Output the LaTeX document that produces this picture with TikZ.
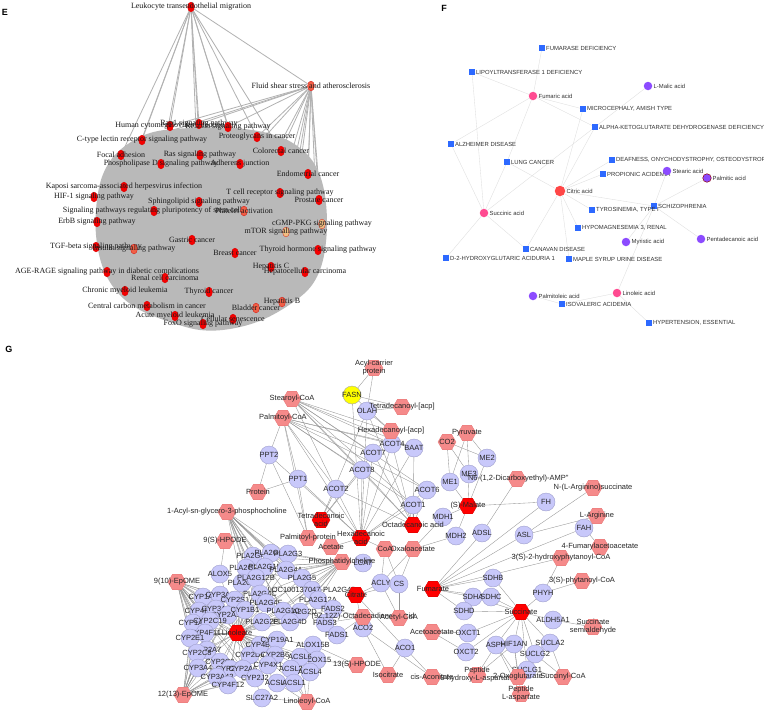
\documentclass[tikz,border=0pt]{standalone}
\usepackage{fontspec}
\setmainfont{Liberation Serif}
\newfontfamily\gfont{Liberation Sans}[Ligatures=TeXOff]
\usetikzlibrary{shapes.geometric}
\pgfdeclarelayer{bg}
\pgfdeclarelayer{blob}
\pgfsetlayers{bg,blob,main}
\definecolor{lav}{RGB}{200,200,250}
\definecolor{lavd}{RGB}{160,160,205}
\definecolor{pinkm}{RGB}{245,138,138}
\definecolor{pinkd}{RGB}{228,115,115}
\definecolor{keyred}{RGB}{255,0,0}
\definecolor{fasny}{RGB}{255,255,0}
\definecolor{fblue}{RGB}{45,105,255}
\definecolor{fpink}{RGB}{255,75,145}
\definecolor{fpurp}{RGB}{140,75,255}
\definecolor{fred}{RGB}{255,70,70}
\definecolor{ered}{RGB}{245,0,0}
\definecolor{eorange}{RGB}{240,95,70}
\definecolor{etan}{RGB}{240,190,130}
\begin{document}
\begin{tikzpicture}[x=1pt,y=-1pt,
  plab/.style={font=\gfont\bfseries\fontsize{9}{10}\selectfont, inner sep=0pt},
  eedge/.style={draw=gray!60, line width=0.8pt},
  enode/.style={ellipse, draw=ered!85!black, line width=0.2pt, minimum width=7pt, minimum height=10pt, inner sep=0pt},
  elab/.style={font=\fontsize{8}{9}\selectfont, text=black!90, inner sep=0pt},
  fedge/.style={draw=black!13, line width=0.35pt},
  fsq/.style={rectangle, fill=fblue, minimum size=5.5pt, inner sep=0pt},
  fdot/.style={circle, minimum size=8.5pt, inner sep=0pt},
  flab/.style={font=\gfont\fontsize{5.9}{6.5}\selectfont, text=black!80, inner sep=0pt, label distance=1pt},
  gedge/.style={draw=black!42, line width=0.35pt},
  gene/.style={circle, fill=lav, draw=lavd, line width=0.4pt, minimum size=18pt, inner sep=0pt},
  met/.style={regular polygon, regular polygon sides=6, fill=pinkm, draw=pinkd, line width=0.3pt, minimum size=18pt, inner sep=0pt},
  key/.style={met, fill=keyred, draw=red!80!black},
  gl/.style={font=\gfont\fontsize{7.5}{8}\selectfont, text=black!85, align=center, inner sep=0pt}
]
\useasboundingbox (0,0) rectangle (764,715);
\begin{pgfonlayer}{bg}
\fill[white] (0,0) rectangle (764,715);
\end{pgfonlayer}

% ---------------- panel labels
\node[plab] (labE) at (5,12) {E};
\node[plab] (labF) at (444,8) {F};
\node[plab] (labG) at (9,349) {G};

% ================= PANEL E =================
\begin{pgfonlayer}{blob}
\fill[gray!55] plot[smooth cycle, tension=0.6] coordinates {(150,133) (190,128) (235,128) (275,135) (300,148) (315,165) (324,190) (327,225) (323,260) (312,285) (292,303) (262,320) (230,329) (200,330) (170,322) (140,310) (118,293) (103,268) (96,235) (97,200) (104,172) (120,150)};
\end{pgfonlayer}

\foreach \n/\x/\y/\c/\lbl in {
 eLk/191/7/ered/Leukocyte transendothelial migration,
 eFs/311/86/eorange/Fluid shear stress and atherosclerosis,
 eHcmv/170/126/ered/Human cytomegalovirus infection,
 eRap/199/124/ered/Rap1 signaling pathway,
 eRlx/228/127/ered/Relaxin signaling pathway,
 ePrt/257/137/ered/Proteoglycans in cancer,
 eCtl/142/140/ered/C-type lectin receptor signaling pathway,
 eFoc/121/155/ered/Focal adhesion,
 eRas/200/155/ered/Ras signaling pathway,
 ePld/161/164/ered/Phospholipase D signaling pathway,
 eAdh/240/164/ered/Adherens junction,
 eCrc/281/151/ered/Colorectal cancer,
 eEnd/308/174/ered/Endometrial cancer,
 eKsh/124/187/ered/Kaposi sarcoma-associated herpesvirus infection,
 eHif/94/197/ered/HIF-1 signaling pathway,
 eTcr/280/193/ered/T cell receptor signaling pathway,
 ePro/319/200/ered/Prostate cancer,
 eSph/199/202/ered/Sphingolipid signaling pathway,
 ePlu/154/211/ered/Signaling pathways regulating pluripotency of stem cells,
 ePlt/244/211/eorange/Platelet activation,
 eErb/97/222/ered/ErbB signaling pathway,
 eCgm/322/224/etan/cGMP-PKG signaling pathway,
 eMto/286/232/etan/mTOR signaling pathway,
 eGas/192/240/ered/Gastric cancer,
 eTgf/96/247/ered/TGF-beta signaling pathway,
 eIns/134/249/eorange/Insulin signaling pathway,
 eThh/318/250/ered/Thyroid hormone signaling pathway,
 eBrc/235/253/ered/Breast cancer,
 eHpc/271/267/ered/Hepatitis C,
 eHcc/305/272/ered/Hepatocellular carcinoma,
 eAge/107/272/ered/AGE-RAGE signaling pathway in diabetic complications,
 eRcc/165/278/ered/Renal cell carcinoma,
 eCml/125/291/ered/Chronic myeloid leukemia,
 eThc/209/292/ered/Thyroid cancer,
 eHpb/282/302/eorange/Hepatitis B,
 eBla/256/308/eorange/Bladder cancer,
 eCcm/147/306/ered/Central carbon metabolism in cancer,
 eAml/175/316/ered/Acute myeloid leukemia,
 eSen/233/319/ered/Cellular senescence,
 eFox/203/324/ered/FoxO signaling pathway}
 \node[enode, fill=\c, label={[elab]center:\lbl}] (\n) at (\x,\y) {};

\begin{pgfonlayer}{bg}
\foreach \b in {eFs,eHcmv,eRap,eRlx,ePrt,eCtl,eFoc,eRas,eAdh,eCrc,ePld,eSph,eKsh}
  \draw[eedge] (eLk) -- (\b);
\foreach \b in {eRap,eHcmv,eRlx,ePrt,eCtl,eCrc,eEnd,ePro,eTcr,eCgm,eThh,eHcc,eMto,eAdh,eHpc,ePlt,eHpb}
  \draw[eedge] (eFs) -- (\b);
\end{pgfonlayer}

% ================= PANEL F =================
\node[fsq, label={[flab]right:FUMARASE DEFICIENCY}] (fFum) at (542,48) {};
\node[fsq, label={[flab]right:LIPOYLTRANSFERASE 1 DEFICIENCY}] (fLip) at (472,72) {};
\node[fsq, label={[flab]right:{MICROCEPHALY, AMISH TYPE}}] (fMic) at (583,109) {};
\node[fsq, label={[flab]right:ALPHA-KETOGLUTARATE DEHYDROGENASE DEFICIENCY}] (fAkg) at (595,127) {};
\node[fsq, label={[flab]right:ALZHEIMER DISEASE}] (fAlz) at (451,144) {};
\node[fsq, label={[flab]right:LUNG CANCER}] (fLun) at (507,162) {};
\node[fsq, label={[flab]right:{DEAFNESS, ONYCHODYSTROPHY, OSTEODYSTROPHY}}] (fDea) at (612,160) {};
\node[fsq, label={[flab]right:PROPIONIC ACIDEMIA}] (fPro) at (603,174) {};
\node[fsq, label={[flab]right:SCHIZOPHRENIA}] (fSch) at (654,206) {};
\node[fsq, label={[flab]right:{TYROSINEMIA, TYPE I}}] (fTyr) at (592,210) {};
\node[fsq, label={[flab]right:{HYPOMAGNESEMIA 3, RENAL}}] (fHyp) at (578,228) {};
\node[fsq, label={[flab]right:CANAVAN DISEASE}] (fCan) at (526,249) {};
\node[fsq, label={[flab]right:D-2-HYDROXYGLUTARIC ACIDURIA 1}] (fD2h) at (446,258) {};
\node[fsq, label={[flab]right:MAPLE SYRUP URINE DISEASE}] (fMsu) at (569,259) {};
\node[fsq, label={[flab]right:ISOVALERIC ACIDEMIA}] (fIso) at (562,304) {};
\node[fsq, label={[flab]right:{HYPERTENSION, ESSENTIAL}}] (fHte) at (649,323) {};

\node[fdot, fill=fpink, label={[flab]right:Fumaric acid}] (fFa) at (533,96) {};
\node[fdot, fill=fpurp, label={[flab]right:L-Malic acid}] (fMa) at (648,86) {};
\node[fdot, fill=fpurp, label={[flab]right:Stearic acid}] (fSt) at (667,171) {};
\node[fdot, fill=fpurp, draw=red!55!black, line width=0.5pt, label={[flab]right:Palmitic acid}] (fPa) at (707,178) {};
\node[fdot, fill=fred, minimum size=10.5pt, label={[flab]right:Citric acid}] (fCi) at (560,191) {};
\node[fdot, fill=fpink, label={[flab]right:Succinic acid}] (fSu) at (484,213) {};
\node[fdot, fill=fpurp, label={[flab]right:Myristic acid}] (fMy) at (626,242) {};
\node[fdot, fill=fpurp, label={[flab]right:Pentadecanoic acid}] (fPe) at (701,239) {};
\node[fdot, fill=fpink, label={[flab]right:Linoleic acid}] (fLi) at (617,293) {};
\node[fdot, fill=fpurp, label={[flab]right:Palmitoleic acid}] (fPl) at (533,296) {};

\begin{pgfonlayer}{bg}
\foreach \a/\b in {fFa/fFum, fFa/fLip, fFa/fMic, fFa/fAkg, fFa/fAlz, fFa/fLun,
  fLip/fSu, fMa/fAkg, fAkg/fCi, fAkg/fSu, fSu/fAlz, fSu/fLun, fSu/fD2h, fSu/fCan,
  fCi/fLun, fCi/fPro, fCi/fDea, fCi/fTyr, fCi/fSch, fCi/fHyp, fCi/fCan, fCi/fMsu, fCi/fMic,
  fSch/fSt, fSch/fPa, fSch/fPe, fSch/fMy, fSch/fLi, fLi/fIso, fLi/fHte, fPl/fIso}
  \draw[fedge] (\a) -- (\b);
\end{pgfonlayer}

% ================= PANEL G =================
% CYP cluster
\foreach \n/\x/\y/\lbl in {c1/203/597/CYP1A1, c2/220/595/CYP3A5, c3/235/600/CYP2S1, c4/199/611/CYP4F2,
 c5/216/609/CYP3A7, c6/228/615/CYP2A13, c7/245/610/CYP1B1, c8/193/623/CYP1A2, c9/210/621/CYP2C19,
 c10/205/633/CYP4F11, c11/190/638/CYP2E1, c12/207/650/CYP2A7, c13/197/653/CYP2C8, c14/220/662/CYP2C9,
 c15/250/655/CYP2D6, c16/198/668/CYP3A4, c17/230/669/CYP2F1, c18/243/669/CYP2A6, c19/217/677/CYP3A43,
 c20/228/685/CYP4F12, c21/255/678/CYP2J2, c22/260/645/CYP4B1, c23/277/640/CYP19A1, c24/275/655/CYP2B6,
 c25/268/665/CYP4X1}
 \node[gene, label={[gl]center:\lbl}] (\n) at (\x,\y) {};

% PLA2 cluster
\foreach \n/\x/\y/\lbl in {p1/253/556/PLA2G4E, p2/271/553/PLA2G2F, p3/288/554/PLA2G3, p4/246/568/PLA2G2A,
 p5/265/567/PLA2G1B, p6/286/570/PLA2G4A, p7/242/583/PLA2G6, p8/256/578/PLA2G12B, p9/302/578/PLA2G5,
 p10/312/590/LOC100137047-PLA2G4B, p11/260/594/PLA2G4C, p12/266/603/PLA2G4F, p13/318/600/PLA2G12A,
 p14/300/612/PLA2G2D, p15/283/611/PLA2G10, p16/262/622/PLA2G2E, p17/290/622/PLA2G4D}
 \node[gene, label={[gl]center:\lbl}] (\n) at (\x,\y) {};

% other genes
\foreach \n/\x/\y/\lbl in {olah/367/411/OLAH, acot4/392/444/ACOT4, baat/414/448/BAAT, acot7/373/453/ACOT7,
 ppt2/269/455/PPT2, acot8/362/470/ACOT8, me2/487/458/ME2, me3/469/474/ME3, me1/450/482/ME1,
 ppt1/298/479/PPT1, acot2/336/489/ACOT2, acot6/427/490/ACOT6, acot1/413/505/ACOT1, mdh1/443/517/MDH1,
 adsl/482/533/ADSL, mdh2/456/536/MDH2, fh/546/502/FH, asl/524/535/ASL, fah/584/528/FAH,
 lcat/363/563/LCAT, acly/381/583/ACLY, cs/399/584/CS, sdhb/493/578/SDHB, sdha/473/597/SDHA,
 sdhc/491/597/SDHC, sdhd/464/611/SDHD, phyh/543/593/PHYH, aldh/553/620/ALDH5A1, oxct1/468/633/OXCT1,
 oxct2/466/652/OXCT2, asph/496/645/ASPH, hifan/514/644/HIF1AN, sucla2/550/643/SUCLA2,
 suclg2/535/654/SUCLG2, suclg1/527/670/SUCLG1, aco2/363/628/ACO2, aco1/405/648/ACO1,
 fads2/333/609/FADS2, fads3/325/623/FADS3, fads1/337/635/FADS1, alox15b/313/645/ALOX15B,
 alox15/317/660/ALOX15, alox5/220/574/ALOX5, acsl6/300/657/ACSL6, acsl3/291/669/ACSL3,
 acsl4/310/672/ACSL4, acsl5/277/683/ACSL5, acsl1/294/683/ACSL1, slc/262/698/SLC27A2}
 \node[gene, label={[gl]center:\lbl}] (\n) at (\x,\y) {};

\node[gene, fill=fasny, draw=black!35, label={[gl]center:FASN}] (fasn) at (352,395) {};

% metabolites
\node[met, label={[gl]center:{Acyl-carrier\\protein}}] (acp) at (374,368) {};
\node[met, label={[gl]center:Stearoyl-CoA}] (stco) at (292,399) {};
\node[met, label={[gl]center:{Tetradecanoyl-[acp]}}] (tdacp) at (402,407) {};
\node[met, label={[gl]center:Palmitoyl-CoA}] (plco) at (283,418) {};
\node[met, label={[gl]center:{Hexadecanoyl-[acp]}}] (hdacp) at (391,431) {};
\node[met, label={[gl]center:CO2}] (co2) at (447,442) {};
\node[met, label={[gl]center:Pyruvate}] (pyr) at (467,433) {};
\node[met, label={[gl]center:Protein}] (prot) at (258,492) {};
\node[met, label={[gl]center:1-Acyl-sn-glycero-3-phosphocholine}] (acyl1) at (227,512) {};
\node[met, label={[gl]center:{"N6-(1,2-Dicarboxyethyl)-AMP"}}] (n6amp) at (517,479) {};
\node[met, label={[gl]center:N-(L-Arginino)succinate}] (nargs) at (593,488) {};
\node[met, label={[gl]center:L-Arginine}] (larg) at (597,516) {};
\node[met, label={[gl]center:Palmitoyl-protein}] (plprot) at (308,538) {};
\node[met, label={[gl]center:9(S)-HPODE}] (hpode9) at (225,541) {};
\node[met, label={[gl]center:Acetate}] (acet) at (331,547) {};
\node[met, label={[gl]center:CoA}] (coa) at (385,549) {};
\node[met, label={[gl]center:Oxaloacetate}] (oaa) at (413,549) {};
\node[met, label={[gl]center:4-Fumarylacetoacetate}] (fuma) at (600,547) {};
\node[met, label={[gl]center:3(S)-2-hydroxyphytanoyl-CoA}] (hphy) at (561,558) {};
\node[met, label={[gl]center:Phosphatidylcholine}] (pc) at (342,562) {};
\node[met, label={[gl]center:3(S)-phytanoyl-CoA}] (phy) at (582,581) {};
\node[met, label={[gl]center:9(10)-EpOME}] (epome9) at (177,582) {};
\node[met, label={[gl]center:{Succinate\\semialdehyde}}] (ssa) at (593,627) {};
\node[met, label={[gl]center:{(9Z,12Z)-Octadecadienoic acid}}] (odd) at (363,617) {};
\node[met, label={[gl]center:Acetyl-CoA}] (accoa) at (399,618) {};
\node[met, label={[gl]center:Acetoacetate}] (acac) at (432,632) {};
\node[met, label={[gl]center:13(S)-HPODE}] (hpode13) at (357,665) {};
\node[met, label={[gl]center:Isocitrate}] (isocit) at (388,675) {};
\node[met, label={[gl]center:cis-Aconitate}] (cisac) at (432,677) {};
\node[met, label={[gl]center:{Peptide\\3-hydroxy-L-aspartate}}] (pep3) at (477,675) {};
\node[met, label={[gl]center:2-Oxoglutarate}] (og) at (518,677) {};
\node[met, label={[gl]center:Succinyl-CoA}] (succoa) at (563,677) {};
\node[met, label={[gl]center:{Peptide\\L-aspartate}}] (pepl) at (521,694) {};
\node[met, label={[gl]center:12(13)-EpOME}] (epome12) at (183,695) {};
\node[met, label={[gl]center:Linoleoyl-CoA}] (linco) at (307,702) {};

\node[key, label={[gl]center:(S)-Malate}] (mal) at (468,506) {};
\node[key, label={[gl]center:{Tetradecanoic\\acid}}] (tdaa) at (321,520) {};
\node[key, label={[gl]center:Octadecanoic acid}] (odaa) at (413,525) {};
\node[key, label={[gl]center:{Hexadecanoic\\acid}}] (hdaa) at (361,538) {};
\node[key, label={[gl]center:Fumarate}] (fum) at (433,589) {};
\node[key, label={[gl]center:Citrate}] (cit) at (356,595) {};
\node[key, label={[gl]center:Succinate}] (succ) at (521,612) {};
\node[key, label={[gl]center:Linoleate}] (lin) at (237,633) {};

\begin{pgfonlayer}{bg}
\foreach \a/\b in {fasn/acp, olah/acp, fasn/tdacp, fasn/hdacp, olah/tdacp, olah/hdacp, fasn/hdaa, olah/tdaa,
  olah/hdaa, olah/odaa, stco/acot4, stco/baat, stco/acot7, stco/acot1, stco/acot6, stco/odaa, stco/hdacp,
  stco/acot2, stco/acot8, plco/ppt2, plco/ppt1, plco/acot4, plco/baat, plco/acot7, plco/acot8, plco/acot2,
  plco/acot1, plco/hdaa, plco/plprot, plco/acot6, ppt2/prot, ppt2/plprot, ppt1/prot, ppt1/plprot, ppt1/hdaa,
  ppt2/hdaa, acot4/hdaa, acot4/odaa, baat/odaa, baat/hdaa, acot7/hdaa, acot7/tdaa, acot8/hdaa, acot8/tdaa,
  acot2/hdaa, acot2/tdaa, acot6/hdaa, acot6/odaa, acot1/hdaa, acot1/odaa, acot7/odaa, acot8/odaa, acot2/odaa,
  co2/me1, co2/me3, co2/me2, pyr/me1, pyr/me3, pyr/me2, me1/mal, me3/mal, me2/mal,
  mal/mdh1, mal/mdh2, mal/fh, fh/fum, mdh1/oaa, mdh2/oaa, oaa/cs, oaa/acly, coa/acly, coa/cs, coa/hdaa,
  acet/hdaa, n6amp/adsl, adsl/fum, asl/fum, asl/nargs, asl/larg, fah/fum, fah/fuma, phyh/phy, phyh/hphy,
  hphy/fum, fum/sdhb, fum/sdha, fum/sdhc, fum/sdhd, succ/sdhb, succ/sdha, succ/sdhc, succ/sdhd, succ/phyh,
  succ/aldh, succ/oxct1, succ/oxct2, succ/asph, succ/hifan, succ/sucla2, succ/suclg2, succ/suclg1,
  aldh/ssa, sucla2/succoa, suclg2/succoa, suclg1/succoa, asph/pep3, asph/pepl, asph/og, hifan/pep3,
  hifan/og, hifan/pepl, oxct1/acac, oxct2/acac, cit/acly, cit/cs, cit/aco2, cit/aco1, accoa/acly,
  accoa/cs, aco2/isocit, aco2/cisac, aco1/isocit, aco1/cisac, lin/fads2, fads2/odd, fads1/odd, fads3/odd,
  alox15/hpode13, alox15b/hpode13, lin/alox15, lin/alox15b, alox5/hpode9, lin/alox5, acsl1/linco,
  acsl3/linco, acsl4/linco, acsl5/linco, acsl6/linco, slc/linco, lin/acsl1, lin/acsl3, lin/acsl4,
  lin/acsl5, lin/acsl6, lin/slc, pc/lcat}
  \draw[gedge] (\a) -- (\b);
\foreach \c in {c1,c2,c3,c4,c5,c6,c7,c8,c9,c10,c11,c12,c13,c14,c15,c16,c17,c18,c19,c20,c21,c22,c23,c24,c25}
  \draw[gedge] (lin) -- (\c);
\foreach \c in {c1,c2,c3,c4,c5,c6,c7,c8,c9,c10,c11,c12,c13,c14,c15,c16,c17,c18,c19,c20,c21}
  {\draw[gedge] (epome9) -- (\c); \draw[gedge] (epome12) -- (\c);}
\foreach \c in {p1,p2,p3,p4,p5,p6,p7,p8,p9,p10,p11,p12,p13,p14,p15,p16,p17}
  {\draw[gedge] (acyl1) -- (\c); \draw[gedge] (pc) -- (\c); \draw[gedge] (lin) -- (\c);}
\end{pgfonlayer}
\end{tikzpicture}
\end{document}
